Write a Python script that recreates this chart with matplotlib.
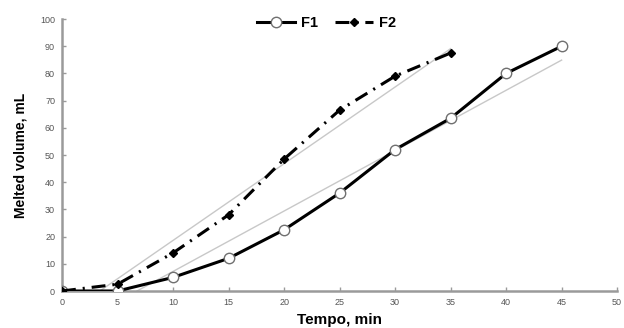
import matplotlib.pyplot as plt

plt.rcParams['font.family'] = ['Liberation Sans', 'DejaVu Sans']
plt.rcParams['lines.scale_dashes'] = False

# dati
t_f1 = [0, 5, 10, 15, 20, 25, 30, 35, 40, 45]
v_f1 = [0, 0, 5, 12, 22.5, 36, 52, 63.5, 80, 90]

t_f2 = [0, 5, 10, 15, 20, 25, 30, 35]
v_f2 = [0, 2.5, 14, 28, 48.5, 66.5, 79, 87.5]

# rette di tendenza (pendenza, intercetta, intervallo)
trend_f1 = (2.22, -15.0, 6.75, 45)
trend_f2 = (2.82, -9.6, 3.4, 35)

xticks = [0, 5, 10, 15, 20, 25, 30, 35, 40, 45, 50]
yticks = [0, 10, 20, 30, 40, 50, 60, 70, 80, 90, 100]

fig = plt.figure(figsize=(6.24, 3.28), dpi=100)
ax = fig.add_axes([0.0994, 0.1128, 0.8896, 0.8292])

for m, q, x0, x1 in [trend_f1, trend_f2]:
    ax.plot([x0, x1], [m * x0 + q, m * x1 + q], color='#c8c8c8', lw=1.0, zorder=1)

ax.plot(t_f1, v_f1, color='black', lw=2.2, marker='o', ms=7.5,
        mfc='white', mec='#707070', mew=1.0, label='F1', zorder=3)
ax.plot(t_f2, v_f2, color='black', lw=2.2, ls=(0, (10, 5, 1.5, 5)),
        marker='D', ms=4.5, mfc='black', mec='black', label='F2', zorder=4)

ax.set_xlim(0, 50)
ax.set_ylim(0, 100)
ax.set_xticks(xticks)
ax.set_yticks(yticks)

for s in ['top', 'right']:
    ax.spines[s].set_visible(False)
for s in ['left', 'bottom']:
    ax.spines[s].set_color('#9a9a9a')
    ax.spines[s].set_linewidth(1.8)
    ax.spines[s].set_zorder(2)
ax.tick_params(direction='in', length=3, width=1, color='#9a9a9a',
               labelsize=6.5, labelcolor='#555555', pad=5)

ax.set_xlabel('Tempo, min', fontsize=11, fontweight='bold', labelpad=4)
ax.set_ylabel('Melted volume, mL', fontsize=10, fontweight='bold', labelpad=9)

fig.legend(loc='center', bbox_to_anchor=(0.523, 0.93), ncol=2, frameon=False,
           prop={'weight': 'bold', 'size': 10.5}, handlelength=2.6,
           columnspacing=1.2, handletextpad=0.4)

fig.savefig('out.png', dpi=100)
